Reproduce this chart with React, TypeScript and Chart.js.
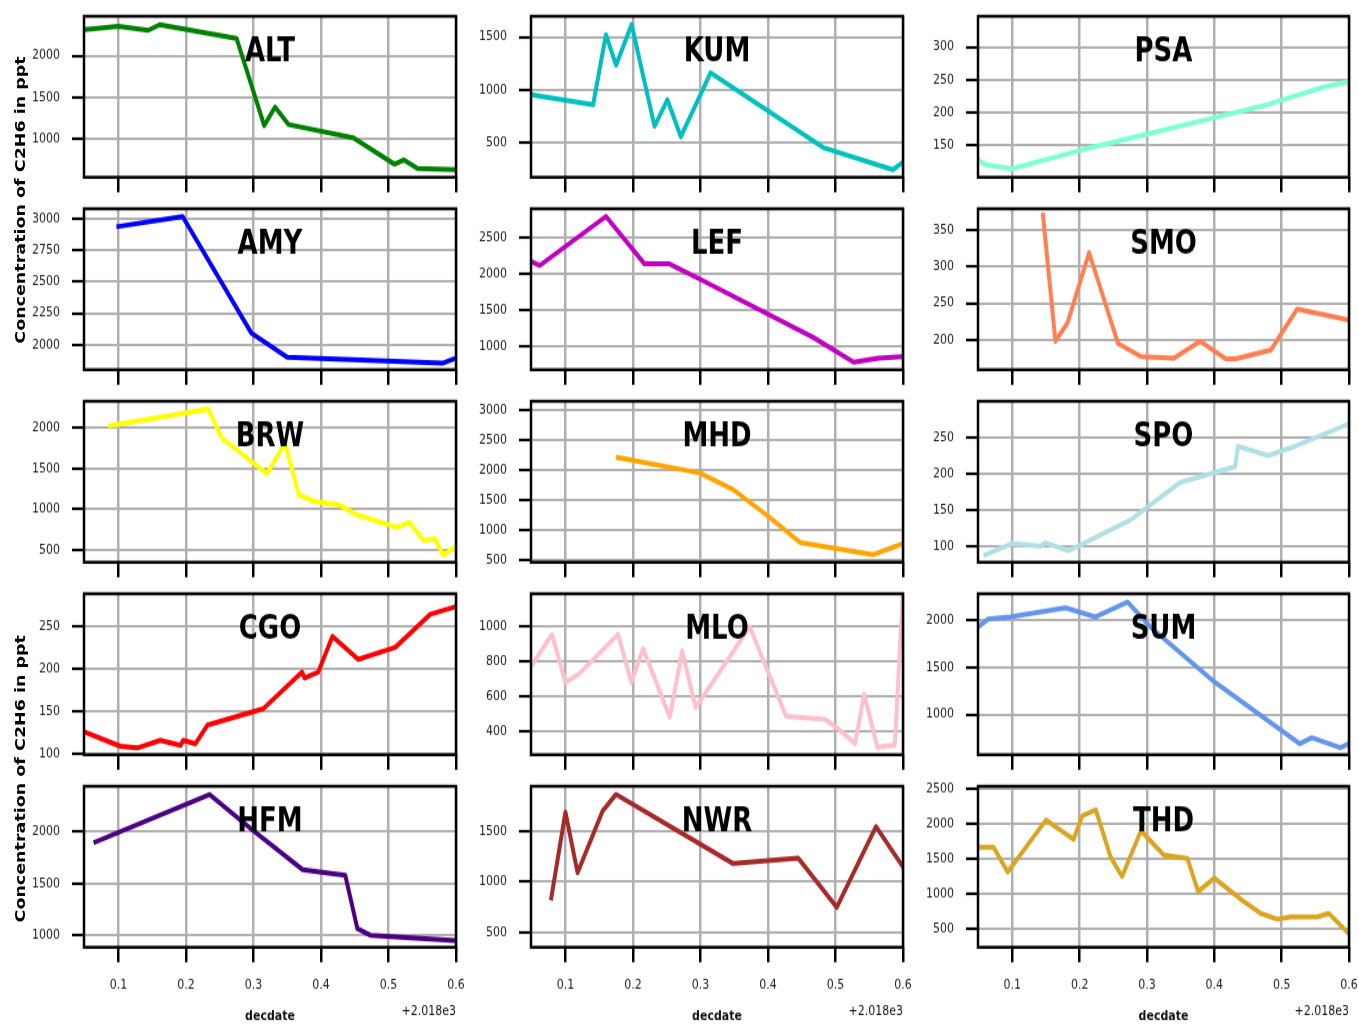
import React, { useEffect, useRef } from 'react';
import { Chart, registerables } from 'chart.js';

Chart.register(...registerables);

// ---------------- data ----------------
const STATIONS = ['ALT', 'KUM', 'PSA', 'AMY', 'LEF', 'SMO', 'BRW', 'MHD', 'SPO', 'CGO', 'MLO', 'SUM', 'HFM', 'NWR', 'THD'];

const X_TICKS = [0.1, 0.2, 0.3, 0.4, 0.5, 0.6];
const X_MIN = 0.049;
const X_MAX = 0.6;

const ALT_DATE = [0.049, 0.1, 0.144, 0.161, 0.2, 0.275, 0.316, 0.332, 0.352, 0.448, 0.509, 0.523, 0.543, 0.6];
const ALT_C2H6 = [2316, 2356, 2308, 2376, 2318, 2208, 1156, 1380, 1168, 1008, 688, 740, 636, 620];

const KUM_DATE = [0.049, 0.141, 0.16, 0.175, 0.198, 0.232, 0.251, 0.271, 0.315, 0.482, 0.585, 0.601];
const KUM_C2H6 = [953, 859, 1522, 1234, 1619, 656, 906, 556, 1162, 453, 244, 319];

const PSA_DATE = [0.049, 0.06, 0.1, 0.2, 0.3, 0.4, 0.479, 0.563, 0.6];
const PSA_C2H6 = [128, 120, 114, 142, 167, 192, 212, 239, 247];

const AMY_DATE = [0.1, 0.195, 0.297, 0.35, 0.581, 0.6];
const AMY_C2H6 = [2939, 3018, 2093, 1902, 1855, 1894];

const LEF_DATE = [0.049, 0.062, 0.16, 0.217, 0.254, 0.299, 0.467, 0.527, 0.564, 0.601];
const LEF_C2H6 = [2166, 2111, 2784, 2134, 2134, 1924, 1124, 785, 840, 863];

const SMO_DATE = [0.1455, 0.164, 0.182, 0.214, 0.257, 0.291, 0.34, 0.379, 0.417, 0.432, 0.484, 0.523, 0.6];
const SMO_C2H6 = [370, 198, 223, 319, 195, 177, 175, 198, 174, 174, 186, 242, 227];

const BRW_DATE = [0.088, 0.233, 0.253, 0.32, 0.347, 0.367, 0.389, 0.426, 0.453, 0.512, 0.531, 0.552, 0.569, 0.581, 0.6];
const BRW_C2H6 = [2029, 2234, 1877, 1437, 1815, 1178, 1096, 1055, 931, 775, 837, 611, 635, 430, 541];

const MHD_DATE = [0.178, 0.299, 0.3485, 0.403, 0.4475, 0.556, 0.601];
const MHD_C2H6 = [2214, 1956, 1681, 1214, 802, 599, 786];

const SPO_DATE = [0.06, 0.1, 0.1415, 0.149, 0.183, 0.208, 0.275, 0.349, 0.431, 0.435, 0.48, 0.52, 0.6];
const SPO_C2H6 = [88, 104, 100, 105, 94, 105, 136, 188, 210, 238, 225, 238, 269];

const CGO_DATE = [0.049, 0.103, 0.128, 0.162, 0.192, 0.196, 0.214, 0.232, 0.3145, 0.372, 0.376, 0.396, 0.417, 0.455, 0.51, 0.562, 0.6];
const CGO_C2H6 = [126, 109, 107, 116, 110, 116, 112, 134, 153, 196, 189, 196, 238, 211, 225, 264, 273];

const MLO_DATE = [0.049, 0.08, 0.1, 0.12, 0.178, 0.1975, 0.215, 0.2545, 0.273, 0.293, 0.373, 0.4267, 0.4847, 0.502, 0.529, 0.5426, 0.562, 0.588, 0.6];
const MLO_C2H6 = [772, 957, 681, 729, 957, 681, 874, 481, 861, 536, 1000, 487, 468, 420, 329, 613, 307, 323, 1220];

const SUM_DATE = [0.049, 0.064, 0.097, 0.179, 0.223, 0.271, 0.305, 0.397, 0.527, 0.545, 0.587, 0.6];
const SUM_C2H6 = [1925, 2010, 2032, 2128, 2032, 2191, 1925, 1362, 691, 755, 649, 691];

const HFM_DATE = [0.066, 0.235, 0.3, 0.373, 0.436, 0.454, 0.474, 0.6];
const HFM_C2H6 = [1902, 2361, 2010, 1635, 1580, 1065, 1000, 951];

const NWR_DATE = [0.079, 0.1, 0.118, 0.155, 0.175, 0.3485, 0.445, 0.502, 0.56, 0.6];
const NWR_C2H6 = [840, 1690, 1090, 1700, 1867, 1180, 1233, 747, 1547, 1147];

const THD_DATE = [0.049, 0.072, 0.093, 0.15, 0.191, 0.204, 0.224, 0.246, 0.263, 0.291, 0.325, 0.36, 0.376, 0.4, 0.444, 0.469, 0.494, 0.513, 0.553, 0.57, 0.6];
const THD_C2H6 = [1666, 1666, 1310, 2052, 1777, 2114, 2196, 1522, 1247, 1898, 1551, 1502, 1030, 1223, 886, 717, 635, 669, 669, 717, 428];

const DATES = [ALT_DATE, KUM_DATE, PSA_DATE, AMY_DATE, LEF_DATE, SMO_DATE, BRW_DATE, MHD_DATE, SPO_DATE, CGO_DATE, MLO_DATE, SUM_DATE, HFM_DATE, NWR_DATE, THD_DATE];
const VALUES = [ALT_C2H6, KUM_C2H6, PSA_C2H6, AMY_C2H6, LEF_C2H6, SMO_C2H6, BRW_C2H6, MHD_C2H6, SPO_C2H6, CGO_C2H6, MLO_C2H6, SUM_C2H6, HFM_C2H6, NWR_C2H6, THD_C2H6];

const Y_MIN = [530, 172, 101, 1802, 680, 159, 344, 472, 78, 99, 265, 574, 886, 350, 235];
const Y_MAX = [2478, 1697, 347, 3079, 2889, 379, 2329, 3148, 300, 288, 1190, 2277, 2440, 1947, 2534];
const Y_TICKS = [
  [1000, 1500, 2000],
  [500, 1000, 1500],
  [150, 200, 250, 300],
  [2000, 2250, 2500, 2750, 3000],
  [1000, 1500, 2000, 2500],
  [200, 250, 300, 350],
  [500, 1000, 1500, 2000],
  [500, 1000, 1500, 2000, 2500, 3000],
  [100, 150, 200, 250],
  [100, 150, 200, 250],
  [400, 600, 800, 1000],
  [1000, 1500, 2000],
  [1000, 1500, 2000],
  [500, 1000, 1500],
  [500, 1000, 1500, 2000, 2500],
];

// ---------------- styles ----------------
const COLORS = ['#008000', '#00bfbf', '#7fffd4', '#0000ff', '#bf00bf', '#ff7f50', '#ffff00', '#ffa500', '#b0e0e6', '#ff0000', '#ffc0cb', '#6495ed', '#4b0082', '#a52a2a', '#daa520'];

const FONT = '"DejaVu Sans", "Liberation Sans", sans-serif';
const K = 1.25; // vertical stretch of the whole figure
const COL_LEFT = [84, 531, 978];
const COL_WIDTH = [372, 372, 371];
const ROW_TOP = [16, 209, 401.5, 594, 786];
const ROW_H = 161;
const Y_AXIS_W = 70;
const PAD_TOP = 6;
const PAD_RIGHT = 14;

const decorPlugin = {
  id: 'panelDecor',
  afterDatasetsDraw(chart: any, _args: any, opts: any) {
    const { ctx, chartArea: a } = chart;
    ctx.save();
    ctx.font = `bold 26px ${FONT}`;
    ctx.fillStyle = '#000';
    ctx.textAlign = 'center';
    ctx.textBaseline = 'middle';
    ctx.fillText(opts.label, (a.left + a.right) / 2, a.bottom - 0.8 * (a.bottom - a.top) + 3.5);
    ctx.restore();
  },
  afterDraw(chart: any, _args: any, opts: any) {
    const { ctx, chartArea: a } = chart;
    ctx.save();
    ctx.strokeStyle = '#000';
    ctx.lineWidth = 2.5;
    ctx.strokeRect(a.left, a.top, a.right - a.left, a.bottom - a.top);
    if (opts.bottom) {
      ctx.fillStyle = '#111';
      ctx.textBaseline = 'middle';
      ctx.font = `bold 11px ${FONT}`;
      ctx.textAlign = 'center';
      ctx.fillText('decdate', (a.left + a.right) / 2, a.bottom + 55);
      ctx.font = `11px ${FONT}`;
      ctx.textAlign = 'right';
      ctx.fillText('+2.018e3', a.right, a.bottom + 51);
    }
    ctx.restore();
  },
};

function Panel({ i }: { i: number }) {
  const ref = useRef<HTMLCanvasElement>(null);
  const row = Math.floor(i / 3);
  const col = i % 3;
  const isBottom = row === 4;
  const plotH = ROW_H / K;
  const plotTop = ROW_TOP[row] / K;
  const W = Y_AXIS_W + COL_WIDTH[col] + PAD_RIGHT;
  const H = Math.round(PAD_TOP + plotH + (isBottom ? 64 : 15));
  const xAxisH = H - PAD_TOP - plotH;

  useEffect(() => {
    const chart = new Chart(ref.current as HTMLCanvasElement, {
      type: 'line',
      data: {
        datasets: [
          {
            data: DATES[i].map((x, j) => ({ x, y: VALUES[i][j] })),
            borderColor: COLORS[i],
            backgroundColor: COLORS[i],
            borderWidth: 4,
            pointRadius: 0,
            tension: 0,
            fill: false,
            clip: 0,
            borderJoinStyle: 'round',
            borderCapStyle: 'square',
          } as any,
        ],
      },
      options: {
        animation: false,
        responsive: false,
        events: [],
        layout: { padding: { top: PAD_TOP, right: PAD_RIGHT, left: 0, bottom: 0 }, autoPadding: false } as any,
        plugins: {
          legend: { display: false },
          tooltip: { enabled: false },
          panelDecor: { label: STATIONS[i], bottom: isBottom },
        } as any,
        scales: {
          x: {
            type: 'linear',
            min: X_MIN,
            max: X_MAX,
            afterBuildTicks: (s: any) => {
              s.ticks = X_TICKS.map((v) => ({ value: v }));
            },
            afterFit: (s: any) => {
              s.height = xAxisH;
              s.paddingLeft = 0;
              s.paddingRight = 0;
              s.paddingTop = 0;
              s.paddingBottom = 0;
            },
            ticks: {
              display: isBottom,
              autoSkip: false,
              maxRotation: 0,
              minRotation: 0,
              padding: 12,
              color: '#222',
              font: { family: FONT, size: 11 },
              callback: (v: any) => Number(v).toFixed(1),
            },
            grid: { color: '#b0b0b0', lineWidth: 2.5, drawTicks: true, tickLength: 12, tickColor: '#000', tickWidth: 2.5 },
            border: { display: false },
          },
          y: {
            type: 'linear',
            min: Y_MIN[i],
            max: Y_MAX[i],
            afterBuildTicks: (s: any) => {
              s.ticks = Y_TICKS[i].map((v) => ({ value: v }));
            },
            afterFit: (s: any) => {
              s.width = Y_AXIS_W;
              s.paddingLeft = 0;
              s.paddingRight = 0;
              s.paddingTop = 0;
              s.paddingBottom = 0;
            },
            ticks: {
              padding: 12,
              color: '#222',
              font: { family: FONT, size: 11 },
              callback: (v: any) => String(v),
            },
            grid: { color: '#b0b0b0', lineWidth: 2, drawTicks: true, tickLength: 12, tickColor: '#000', tickWidth: 2.2 },
            border: { display: false },
          },
        },
      } as any,
      plugins: [decorPlugin as any],
    });
    return () => chart.destroy();
  }, []);

  return (
    <canvas
      ref={ref}
      width={W}
      height={H}
      style={{ position: 'absolute', left: COL_LEFT[col] - Y_AXIS_W, top: plotTop - PAD_TOP, width: W, height: H }}
    />
  );
}

const Y_LABEL = 'Concentration of C2H6 in ppt';
const Y_LABEL_CENTERS = [200, 779];

export default function App() {
  return (
    <div
      style={{
        position: 'absolute',
        left: 0,
        top: 0,
        width: 1359,
        height: 1024 / K,
        transform: `scale(1, ${K})`,
        transformOrigin: '0 0',
        overflow: 'hidden',
        background: '#fff',
      }}
    >
      {STATIONS.map((_, i) => (
        <Panel key={i} i={i} />
      ))}
      {Y_LABEL_CENTERS.map((cy, k) => (
        <div
          key={k}
          style={{
            position: 'absolute',
            left: 19.5,
            top: cy / K,
            transform: 'translate(-50%, -50%) rotate(-90deg)',
            whiteSpace: 'nowrap',
            font: `bold 14px ${FONT}`,
            color: '#000',
          }}
        >
          {Y_LABEL}
        </div>
      ))}
    </div>
  );
}
